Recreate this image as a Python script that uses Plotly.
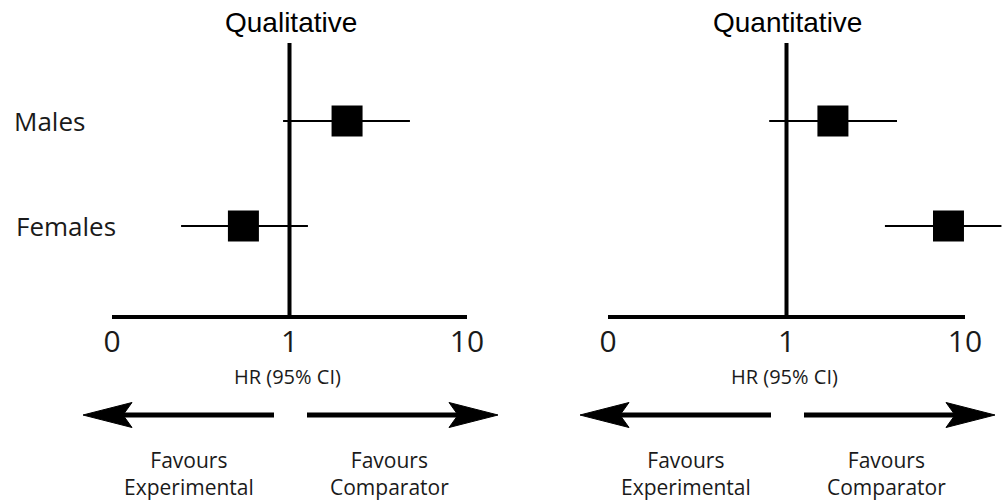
import numpy as np
import plotly.graph_objects as go

# ---------------- data ----------------
groups = ["Males", "Females"]
panels = ["Qualitative", "Quantitative"]
qual_hr = [2.11, 0.55]
qual_lo = [0.92, 0.245]
qual_hi = [4.77, 1.27]
quan_hr = [1.82, 8.08]
quan_lo = [0.80, 3.56]
quan_hi = [4.16, 16.0]
tick_vals = [0.1, 1, 10]
tick_text = ["0", "1", "10"]
axis_label = "HR (95% CI)"
favours_left = "Favours<br>Experimental"
favours_right = "Favours<br>Comparator"

W, H = 1003, 502
def X(px):
    return px / W
def Y(py):
    return 1 - py / H

MYR = "Open Sans, Noto Sans, DejaVu Sans, sans-serif"
ARI = "Liberation Sans, Arial, sans-serif"
TXT = "#1a1a1a"

fig = go.Figure()

series = [(qual_hr, qual_lo, qual_hi), (quan_hr, quan_lo, quan_hi)]
for i, (hr, lo, hi) in enumerate(series):
    hr_a, lo_a, hi_a = np.array(hr), np.array(lo), np.array(hi)
    fig.add_trace(go.Scatter(
        x=hr, y=groups, mode="markers",
        marker=dict(symbol="square", size=31, color="black", line=dict(width=0)),
        error_x=dict(type="data", symmetric=False,
                     array=(hi_a - hr_a).tolist(), arrayminus=(hr_a - lo_a).tolist(),
                     color="black", thickness=2, width=0),
        xaxis="x" if i == 0 else "x2", yaxis="y" if i == 0 else "y2",
        showlegend=False, hoverinfo="skip", cliponaxis=False,
    ))

# pixel geometry of each panel: (domain, px of 0.1, px of 10, px of ref line/title center)
panel_geo = [
    dict(dom=(0.0, 0.5), p_lo=112, p_hi=467, center=289.5),
    dict(dom=(0.5, 1.0), p_lo=608, p_hi=965, center=786.5),
]

y_top_px, y_bot_px = 0, 317
row_px = [121, 226]
scale_y = row_px[1] - row_px[0]
yrange = [1 + (y_bot_px - row_px[1]) / scale_y, -(row_px[0] - y_top_px) / scale_y]

layout = dict(
    width=W, height=H, margin=dict(l=0, r=0, t=0, b=0),
    paper_bgcolor="white", plot_bgcolor="white", showlegend=False,
    hovermode=False, dragmode=False,
)
shapes = []
annotations = []
for i, g in enumerate(panel_geo):
    d0, d1 = g["dom"]
    dpx0, dpx1 = d0 * W, d1 * W
    sc = (g["p_hi"] - g["p_lo"]) / 2.0
    xr = [-1 - (g["p_lo"] - dpx0) / sc, 1 + (dpx1 - g["p_hi"]) / sc]
    xname = "xaxis" if i == 0 else "xaxis2"
    yname = "yaxis" if i == 0 else "yaxis2"
    xref = "x" if i == 0 else "x2"
    layout[xname] = dict(
        domain=[d0, d1], type="log", range=xr, anchor="y" if i == 0 else "y2",
        tickvals=tick_vals, ticktext=tick_text, showgrid=False, zeroline=False,
        showline=False, ticks="", tickfont=dict(family=MYR, size=30, color=TXT),
        ticklabelstandoff=4, fixedrange=True,
    )
    layout[yname] = dict(
        domain=[Y(y_bot_px), Y(y_top_px)], type="category", categoryarray=groups,
        range=yrange, showticklabels=False, showgrid=False, zeroline=False,
        showline=False, ticks="", anchor="x" if i == 0 else "x2", fixedrange=True,
    )
    # horizontal axis line spanning the tick range
    shapes.append(dict(type="line", xref=xref, yref="paper",
                       x0=tick_vals[0], x1=tick_vals[-1], y0=Y(y_bot_px), y1=Y(y_bot_px),
                       line=dict(color="black", width=4)))
    # vertical line of no effect at HR = 1
    shapes.append(dict(type="line", xref=xref, yref="paper",
                       x0=1, x1=1, y0=Y(y_bot_px), y1=Y(43),
                       line=dict(color="black", width=4)))
    c = g["center"]
    annotations.append(dict(text=panels[i], xref="paper", yref="paper",
                            x=X(c + 1), y=Y(23), showarrow=False,
                            font=dict(family=ARI, size=28, color="black"),
                            xanchor="center", yanchor="middle"))
    annotations.append(dict(text=axis_label, xref="paper", yref="paper",
                            x=X(c - 2), y=Y(376), showarrow=False,
                            font=dict(family=MYR, size=20, color=TXT),
                            xanchor="center", yanchor="middle"))
    # arrows
    ay = 415
    lt_tip, lt_tail = c - 206.5, c - 15.5
    rt_tail, rt_tip = c + 17.5, c + 208.5
    hl, hw, notch = 49, 12.5, 9
    shapes.append(dict(type="line", xref="paper", yref="paper",
                       x0=X(lt_tail), x1=X(lt_tip + hl - notch - 2), y0=Y(ay), y1=Y(ay),
                       line=dict(color="black", width=5)))
    shapes.append(dict(type="path", xref="paper", yref="paper",
                       path=(f"M{X(lt_tip)},{Y(ay)} L{X(lt_tip + hl)},{Y(ay - hw)} "
                             f"L{X(lt_tip + hl - notch)},{Y(ay)} L{X(lt_tip + hl)},{Y(ay + hw)} Z"),
                       fillcolor="black", line=dict(color="black", width=1)))
    shapes.append(dict(type="line", xref="paper", yref="paper",
                       x0=X(rt_tail), x1=X(rt_tip - hl + notch + 2), y0=Y(ay), y1=Y(ay),
                       line=dict(color="black", width=5)))
    shapes.append(dict(type="path", xref="paper", yref="paper",
                       path=(f"M{X(rt_tip)},{Y(ay)} L{X(rt_tip - hl)},{Y(ay - hw)} "
                             f"L{X(rt_tip - hl + notch)},{Y(ay)} L{X(rt_tip - hl)},{Y(ay + hw)} Z"),
                       fillcolor="black", line=dict(color="black", width=1)))
    annotations.append(dict(text=favours_left, xref="paper", yref="paper",
                            x=X(c - 101), y=Y(473), showarrow=False,
                            font=dict(family=MYR, size=21, color=TXT),
                            xanchor="center", yanchor="middle", align="center"))
    annotations.append(dict(text=favours_right, xref="paper", yref="paper",
                            x=X(c + 100), y=Y(473), showarrow=False,
                            font=dict(family=MYR, size=21, color=TXT),
                            xanchor="center", yanchor="middle", align="center"))

# row labels on the left
for j, gname in enumerate(groups):
    annotations.append(dict(text=gname, xref="paper", yref="y", x=X(12 + j * 2), y=gname,
                            showarrow=False, font=dict(family=MYR, size=26, color=TXT),
                            xanchor="left", yanchor="middle"))

layout["shapes"] = shapes
layout["annotations"] = annotations
fig.update_layout(**layout)
fig.write_html("out.html", config={"displayModeBar": False, "staticPlot": True},
               post_script="document.body.style.margin='0px';document.body.style.overflow='hidden';")
